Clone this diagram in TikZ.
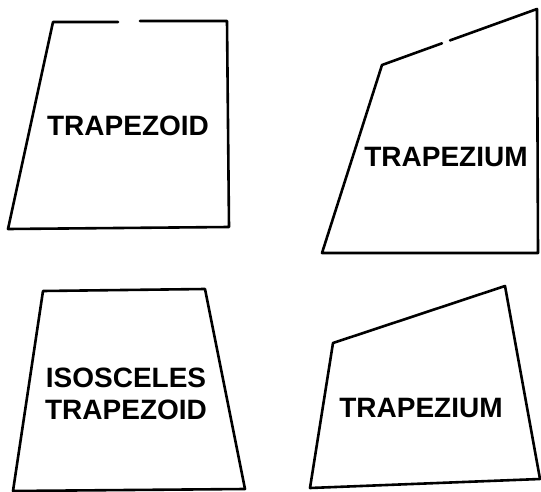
\documentclass[tikz,border=0pt]{standalone}
\usepackage{fontspec}
\setmainfont{Liberation Sans}
\usetikzlibrary{positioning}

\tikzset{
  edge/.style={line width=2.6pt,line join=round,line cap=round},
  lbl/.style={font=\fontsize{28}{32}\selectfont\bfseries,align=center,inner sep=0pt}
}

\begin{document}
\begin{tikzpicture}[x=1pt,y=-1pt]
\useasboundingbox (0,0) rectangle (541,492);

% top left: trapezoid, a break in the top edge
\draw[edge] (140,21) -- (227,21) -- (229,227) -- (8,229) -- (53,22) -- (118,22);
\node[lbl] (zoid) at (128,126) {TRAPEZOID};

% top right: trapezium
\draw[edge] (450,40.4) -- (537,9) -- (538,253) -- (322,253) -- (382,65) -- (442,43.3);
\node[lbl] (zium) at (446,157) {TRAPEZIUM};

% bottom left: isosceles trapezoid
\draw[edge] (43,291) -- (205,289) -- (245,489) -- (13,491) -- cycle;
\node[lbl] (iso) at (126,394) {ISOSCELES\\TRAPEZOID};

% bottom right: trapezium
\draw[edge] (333,343) -- (505,286) -- (540,479) -- (310,488) -- cycle;
\node[lbl] (ziumb) at (421,408) {TRAPEZIUM};
\end{tikzpicture}
\end{document}
